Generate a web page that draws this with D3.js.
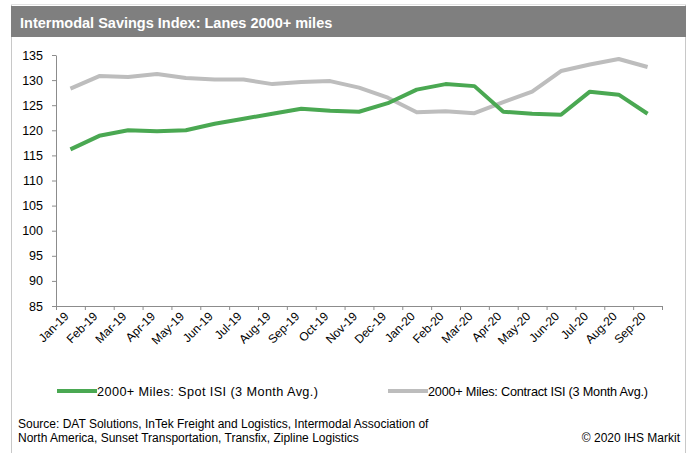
<!DOCTYPE html>
<html>
<head>
<meta charset="utf-8">
<script src="https://cdn.jsdelivr.net/npm/d3@7"></script>
<style>
  html, body { margin: 0; padding: 0; background: #fff; }
  svg { display: block; font-family: "Liberation Sans", Arial, sans-serif; }
</style>
</head>
<body>
<svg id="chart" width="691" height="453"></svg>
<script>
// Monthly categories along the x axis
const months = ["Jan-19","Feb-19","Mar-19","Apr-19","May-19","Jun-19","Jul-19","Aug-19","Sep-19","Oct-19","Nov-19","Dec-19",
                "Jan-20","Feb-20","Mar-20","Apr-20","May-20","Jun-20","Jul-20","Aug-20","Sep-20"];

// 2000+ miles: spot ISI, 3-month average
const spotISI = [116.2,118.9,120.0,119.8,120.0,121.3,122.3,123.3,124.3,123.9,123.7,125.4,
                 128.1,129.2,128.8,123.7,123.3,123.1,127.7,127.1,123.3];

// 2000+ miles: contract ISI, 3-month average
const contractISI = [128.3,130.8,130.6,131.2,130.4,130.1,130.1,129.2,129.6,129.8,128.5,126.5,
                     123.6,123.8,123.4,125.6,127.7,131.8,133.1,134.2,132.6];

// Y axis tick values
const yTicks = [85,90,95,100,105,110,115,120,125,130,135];

const seriesNames = ["2000+ Miles: Spot ISI (3 Month Avg.)", "2000+ Miles: Contract ISI (3 Month Avg.)"];
const seriesColors = ["#4aa852", "#bdbdbd"];

const svg = d3.select("#chart");

// outer frame
const frame = svg.append("g");
frame.append("line").attr("x1", 11.5).attr("x2", 11.5).attr("y1", 4).attr("y2", 453)
  .attr("stroke", "#c8c8c8").attr("stroke-width", 1);
frame.append("line").attr("x1", 685.5).attr("x2", 685.5).attr("y1", 4).attr("y2", 453)
  .attr("stroke", "#c8c8c8").attr("stroke-width", 1);
frame.append("line").attr("x1", 11).attr("x2", 686).attr("y1", 4.5).attr("y2", 4.5)
  .attr("stroke", "#e2e2e2").attr("stroke-width", 1);

// title bar
svg.append("rect").attr("x", 11).attr("y", 6).attr("width", 675).attr("height", 31).attr("fill", "#7f7f7f");
svg.append("text").attr("x", 20).attr("y", 27.5)
  .attr("fill", "#fff").attr("font-weight", "bold").attr("font-size", 14.5)
  .text("Intermodal Savings Index: Lanes 2000+ miles");

// plot area
const plotLeft = 56, plotRight = 662, plotTop = 55, plotBottom = 306;

const x = d3.scaleBand().domain(months).range([plotLeft, plotRight]).padding(0);
const y = d3.scaleLinear().domain([85, 135]).range([plotBottom, plotTop]);

const axisColor = "#8c8c8c";

// y axis
const yAxis = svg.append("g").attr("transform", `translate(${plotLeft},0)`)
  .call(d3.axisLeft(y).tickValues(yTicks).tickSize(4).tickPadding(9).tickSizeOuter(0));
yAxis.select(".domain").attr("stroke", axisColor);
yAxis.selectAll(".tick line").attr("stroke", axisColor);
yAxis.selectAll(".tick text").attr("font-size", 12.5).attr("fill", "#000")
  .attr("font-family", "'Liberation Sans', Arial, sans-serif");

// x axis: ticks sit between categories
const xAxisG = svg.append("g").attr("transform", `translate(0,${plotBottom})`);
xAxisG.append("line").attr("x1", plotLeft).attr("x2", plotRight).attr("y1", 0.5).attr("y2", 0.5).attr("stroke", axisColor);
const boundaries = months.map(m => x(m)).concat([plotRight]);
xAxisG.selectAll("line.tk").data(boundaries).join("line").attr("class", "tk")
  .attr("x1", d => d + 0.5).attr("x2", d => d + 0.5).attr("y1", 0).attr("y2", 4).attr("stroke", axisColor);
xAxisG.selectAll("text.lbl").data(months).join("text").attr("class", "lbl")
  .attr("transform", d => `translate(${x(d) + x.bandwidth() / 2 - 1},${11}) rotate(-45)`)
  .attr("text-anchor", "end").attr("font-size", 12).attr("fill", "#000")
  .text(d => d);

// series lines
const cx = m => x(m) + x.bandwidth() / 2;
const line = d3.line().x((d, i) => cx(months[i])).y(d => y(d));

[contractISI, spotISI].forEach((vals, k) => {
  const color = k === 0 ? seriesColors[1] : seriesColors[0];
  svg.append("path").datum(vals).attr("d", line)
    .attr("fill", "none").attr("stroke", color).attr("stroke-width", 4)
    .attr("stroke-linejoin", "round").attr("stroke-linecap", "butt");
});

// legend
const legendY = 391;
const legendItems = [
  { name: seriesNames[0], color: seriesColors[0], x0: 57, w: 221 },
  { name: seriesNames[1], color: seriesColors[1], x0: 388, w: 220 }
];
legendItems.forEach(it => {
  svg.append("line").attr("x1", it.x0).attr("x2", it.x0 + 40).attr("y1", legendY).attr("y2", legendY)
    .attr("stroke", it.color).attr("stroke-width", 4);
  svg.append("text").attr("x", it.x0 + 40).attr("y", legendY + 4.5).attr("font-size", 12.7).attr("fill", "#000")
    .attr("textLength", it.w).attr("lengthAdjust", "spacing")
    .text(it.name);
});

// source and copyright
svg.append("text").attr("x", 18).attr("y", 428).attr("font-size", 12).attr("fill", "#000")
  .text("Source: DAT Solutions, InTek Freight and Logistics, Intermodal Association of");
svg.append("text").attr("x", 18).attr("y", 442).attr("font-size", 12).attr("fill", "#000")
  .text("North America, Sunset Transportation, Transfix, Zipline Logistics");
svg.append("text").attr("x", 680).attr("y", 442).attr("text-anchor", "end").attr("font-size", 12).attr("fill", "#000")
  .text("© 2020 IHS Markit");
</script>
</body>
</html>
